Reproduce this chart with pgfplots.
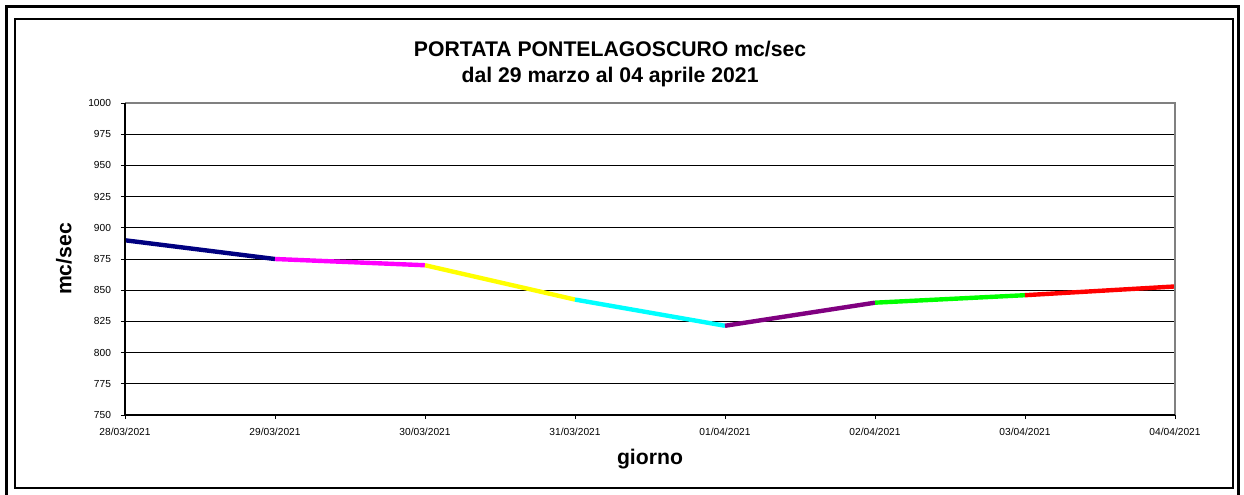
\documentclass[border=0pt]{standalone}
\usepackage{pgfplots}
\pgfplotsset{compat=1.18}
\usepackage{fontspec}
\setmainfont{Liberation Sans}
\definecolor{cnavy}{RGB}{0,0,128}
\definecolor{cmag}{RGB}{255,0,255}
\definecolor{cyel}{RGB}{255,255,0}
\definecolor{ccya}{RGB}{0,255,255}
\definecolor{cpur}{RGB}{128,0,128}
\definecolor{cgre}{RGB}{0,255,0}
\definecolor{cred}{RGB}{255,0,0}
\begin{document}
\begin{tikzpicture}
\path[use as bounding box] (0,0) rectangle (622bp,247.5bp);
% frames
\draw[black, line width=1.5bp] (3.25bp,-3bp) -- (3.25bp,244.25bp) -- (619.25bp,244.25bp) -- (619.25bp,-3bp);
\draw[black, line width=0.7bp] (7.5bp,3.5bp) rectangle (616.5bp,238bp);
\begin{axis}[
  scale only axis,
  width=525bp, height=156bp,
  at={(62.5bp,40bp)}, anchor=south west,
  xmin=0, xmax=7, ymin=750, ymax=1000,
  xtick={0,1,2,3,4,5,6,7},
  xticklabels={28/03/2021,29/03/2021,30/03/2021,31/03/2021,01/04/2021,02/04/2021,03/04/2021,04/04/2021},
  ytick={750,775,800,825,850,875,900,925,950,975,1000},
  xtick pos=bottom, ytick pos=left,
  tick align=outside, major tick length=2bp,
  tick style={black, line width=0.5bp},
  axis line style={draw=none},
  ymajorgrids, grid style={black, line width=0.5bp},
  /pgf/number format/assume math mode=true,
  /pgf/number format/1000 sep={},
  ticklabel style={font=\fontsize{5.1bp}{6bp}\selectfont},
  xticklabel style={yshift=-1.2bp},
  yticklabel style={xshift=-1.5bp},
  title={PORTATA PONTELAGOSCURO mc/sec\\dal 29 marzo al 04 aprile 2021},
  title style={at={(0.462,1)}, anchor=south, align=center, yshift=-1.5bp,
    font=\bfseries\fontsize{10.6bp}{13bp}\selectfont},
  xlabel={giorno},
  xlabel style={at={(axis description cs:0.5,-0.158)}, anchor=base,
    font=\bfseries\fontsize{10.6bp}{12bp}\selectfont},
  ylabel={mc/sec},
  ylabel style={at={(axis description cs:-0.0581,0.5)}, anchor=center,
    font=\bfseries\fontsize{10.6bp}{12bp}\selectfont},
  clip=false,
]
\addplot[cnavy, line width=2.2bp] coordinates {(0,890) (1,875)};
\addplot[cmag, line width=2.2bp] coordinates {(1,875) (2,870)};
\addplot[cyel, line width=2.2bp] coordinates {(2,870) (3,842.5)};
\addplot[ccya, line width=2.2bp] coordinates {(3,842.5) (4,821.5)};
\addplot[cpur, line width=2.2bp] coordinates {(4,821.5) (5,840)};
\addplot[cgre, line width=2.2bp] coordinates {(5,840) (6,846)};
\addplot[cred, line width=2.2bp] coordinates {(6,846) (7,853)};
\draw[gray, line width=1bp] (rel axis cs:0,1) -- (rel axis cs:1,1) -- (rel axis cs:1,0);
\draw[black, line width=1bp] (rel axis cs:0,1) -- (rel axis cs:0,0) -- (rel axis cs:1,0);
\end{axis}
\end{tikzpicture}
\end{document}
